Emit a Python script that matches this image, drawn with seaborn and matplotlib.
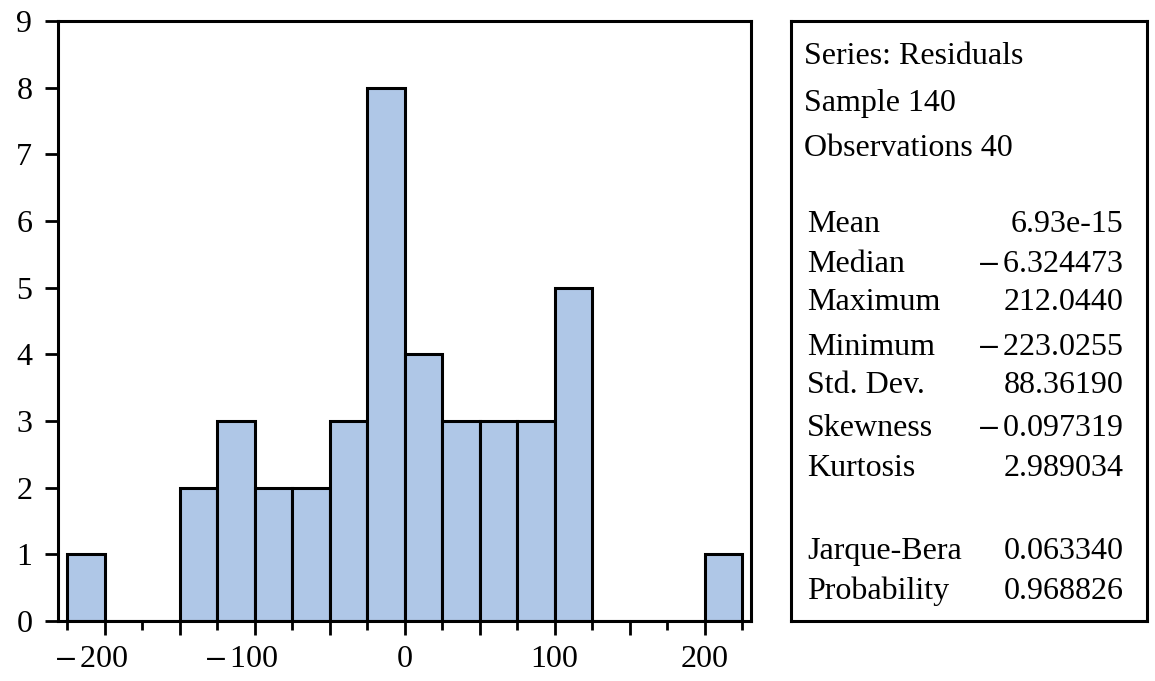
import numpy as np
import pandas as pd
import matplotlib
matplotlib.use("Agg")
import matplotlib.pyplot as plt
from matplotlib.ticker import MultipleLocator, FuncFormatter
from matplotlib.transforms import ScaledTranslation
import seaborn as sns

# ---- data ----
bin_edges = [-225, -200, -175, -150, -125, -100, -75, -50, -25, 0, 25, 50, 75, 100, 125, 150, 175, 200, 225]
counts = [1, 0, 0, 2, 3, 2, 2, 3, 8, 4, 3, 3, 3, 5, 0, 0, 0, 1]

stat_header = ["Series: Residuals", "Sample 140", "Observations 40"]
stat_names = ["Mean", "Median", "Maximum", "Minimum", "Std. Dev.", "Skewness", "Kurtosis",
              "Jarque-Bera", "Probability"]
stat_values = ["6.93e-15", "-6.324473", "212.0440", "-223.0255", "88.36190",
               "-0.097319", "2.989034", "0.063340", "0.968826"]

centers = [(bin_edges[i] + bin_edges[i + 1]) / 2 for i in range(len(counts))]
df = pd.DataFrame({"resid": centers, "count": counts})

sns.set_style("white")
plt.rcParams['font.family'] = ['Liberation Serif', 'DejaVu Serif']
plt.rcParams['mathtext.fontset'] = 'stix'
plt.rcParams['text.color'] = 'black'
plt.rcParams['xtick.color'] = 'black'
plt.rcParams['ytick.color'] = 'black'


def fmt_num(s):
    # negative numbers drawn with a typographic (wide) minus via mathtext
    return "$-\\,$" + s[1:] if s.startswith("-") else s


fig = plt.figure(figsize=(11.55, 6.81), dpi=100)
W, H = 1155, 681
ax = fig.add_axes([58 / W, 1 - 621 / H, (751 - 58) / W, 600 / H])

sns.histplot(data=df, x="resid", weights="count", bins=bin_edges, ax=ax,
             color="#AFC7E7", alpha=1.0, edgecolor="black", linewidth=2.2)

ax.set_xlim(-231, 231)
ax.set_ylim(0, 9)
ax.set_xlabel("")
ax.set_ylabel("")
ax.xaxis.set_major_locator(MultipleLocator(50))
ax.xaxis.set_minor_locator(MultipleLocator(25))
ax.xaxis.set_major_formatter(FuncFormatter(
    lambda v, p: fmt_num(f"{int(round(v))}") if int(round(v)) % 100 == 0 else ""))
ax.yaxis.set_major_locator(MultipleLocator(1))
ax.tick_params(axis="x", which="major", direction="out", length=10, width=2, labelsize=23, pad=7,
               bottom=True, colors="black")
ax.tick_params(axis="x", which="minor", direction="out", length=6.5, width=2, bottom=True, colors="black")
ax.tick_params(axis="y", which="major", direction="out", length=9.5, width=2, labelsize=23, pad=9,
               left=True, colors="black")
for s in ax.spines.values():
    s.set_visible(True)
    s.set_linewidth(2.2)
    s.set_color("black")

fig.canvas.draw()
for tick in ax.xaxis.get_major_ticks():
    if tick.get_loc() < 0:
        lab = tick.label1
        lab.set_transform(lab.get_transform() + ScaledTranslation(-13 / 100, 0, fig.dpi_scale_trans))

# ---- stats box ----
bx = fig.add_axes([791 / W, 1 - 621 / H, (1147 - 791) / W, 600 / H])
bx.set_xticks([])
bx.set_yticks([])
for s in bx.spines.values():
    s.set_linewidth(2.2)
    s.set_color("black")

fs = 23
header_y = [0.928, 0.85, 0.7755]
for t, y in zip(stat_header, header_y):
    bx.text(0.036, y, t, transform=bx.transAxes, fontsize=fs, va="baseline", ha="left", color="black")

row_y = [0.649, 0.582, 0.518, 0.443, 0.38, 0.309, 0.2417, 0.103, 0.0367]
for n, v, y in zip(stat_names, stat_values, row_y):
    bx.text(0.045, y, n, transform=bx.transAxes, fontsize=fs, va="baseline", ha="left", color="black")
    bx.text(0.935, y, fmt_num(v), transform=bx.transAxes, fontsize=fs, va="baseline", ha="right",
            color="black")

fig.savefig("out.png", dpi=100)
